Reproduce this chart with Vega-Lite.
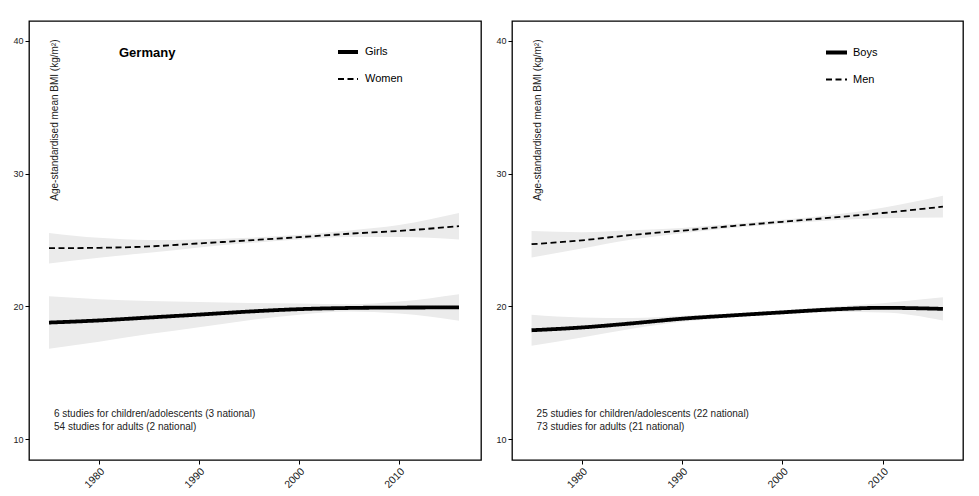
{
  "$schema": "https://vega.github.io/schema/vega-lite/v6.json",
  "background": "white",
  "padding": {"left": 12, "top": 20, "right": 5, "bottom": 5},
  "bounds": "flush",
  "spacing": 31,
  "config": {
    "font": "Liberation Sans",
    "view": {"stroke": "black", "strokeWidth": 1.3},
    "axis": {"grid": false, "domain": false, "tickColor": "black", "tickSize": 4, "labelColor": "#222", "labelPadding": 2}
  },
  "datasets": {
    "curves": [
      {"panel": "L", "series": "Girls", "year": 1975, "bmi": 18.79, "lo": 16.81, "hi": 20.77},
      {"panel": "L", "series": "Girls", "year": 1980, "bmi": 18.95, "lo": 17.35, "hi": 20.55},
      {"panel": "L", "series": "Girls", "year": 1985, "bmi": 19.17, "lo": 17.92, "hi": 20.42},
      {"panel": "L", "series": "Girls", "year": 1990, "bmi": 19.39, "lo": 18.44, "hi": 20.34},
      {"panel": "L", "series": "Girls", "year": 1995, "bmi": 19.62, "lo": 18.97, "hi": 20.27},
      {"panel": "L", "series": "Girls", "year": 2000, "bmi": 19.8, "lo": 19.38, "hi": 20.22},
      {"panel": "L", "series": "Girls", "year": 2005, "bmi": 19.89, "lo": 19.62, "hi": 20.16},
      {"panel": "L", "series": "Girls", "year": 2010, "bmi": 19.92, "lo": 19.47, "hi": 20.37},
      {"panel": "L", "series": "Girls", "year": 2016, "bmi": 19.93, "lo": 18.93, "hi": 20.93},
      {"panel": "L", "series": "Women", "year": 1975, "bmi": 24.39, "lo": 23.24, "hi": 25.54},
      {"panel": "L", "series": "Women", "year": 1980, "bmi": 24.42, "lo": 23.67, "hi": 25.17},
      {"panel": "L", "series": "Women", "year": 1985, "bmi": 24.52, "lo": 24.04, "hi": 25.0},
      {"panel": "L", "series": "Women", "year": 1990, "bmi": 24.75, "lo": 24.45, "hi": 25.05},
      {"panel": "L", "series": "Women", "year": 1995, "bmi": 24.98, "lo": 24.78, "hi": 25.18},
      {"panel": "L", "series": "Women", "year": 2000, "bmi": 25.22, "lo": 25.04, "hi": 25.4},
      {"panel": "L", "series": "Women", "year": 2005, "bmi": 25.48, "lo": 25.23, "hi": 25.73},
      {"panel": "L", "series": "Women", "year": 2010, "bmi": 25.69, "lo": 25.24, "hi": 26.14},
      {"panel": "L", "series": "Women", "year": 2016, "bmi": 26.05, "lo": 25.05, "hi": 27.05},
      {"panel": "R", "series": "Boys", "year": 1975, "bmi": 18.21, "lo": 17.04, "hi": 19.38},
      {"panel": "R", "series": "Boys", "year": 1980, "bmi": 18.42, "lo": 17.67, "hi": 19.17},
      {"panel": "R", "series": "Boys", "year": 1985, "bmi": 18.73, "lo": 18.33, "hi": 19.13},
      {"panel": "R", "series": "Boys", "year": 1990, "bmi": 19.08, "lo": 18.86, "hi": 19.3},
      {"panel": "R", "series": "Boys", "year": 1995, "bmi": 19.33, "lo": 19.18, "hi": 19.48},
      {"panel": "R", "series": "Boys", "year": 2000, "bmi": 19.56, "lo": 19.41, "hi": 19.71},
      {"panel": "R", "series": "Boys", "year": 2005, "bmi": 19.78, "lo": 19.58, "hi": 19.98},
      {"panel": "R", "series": "Boys", "year": 2010, "bmi": 19.9, "lo": 19.55, "hi": 20.25},
      {"panel": "R", "series": "Boys", "year": 2016, "bmi": 19.82, "lo": 18.95, "hi": 20.69},
      {"panel": "R", "series": "Men", "year": 1975, "bmi": 24.69, "lo": 23.69, "hi": 25.69},
      {"panel": "R", "series": "Men", "year": 1980, "bmi": 24.98, "lo": 24.36, "hi": 25.6},
      {"panel": "R", "series": "Men", "year": 1985, "bmi": 25.39, "lo": 25.04, "hi": 25.74},
      {"panel": "R", "series": "Men", "year": 1990, "bmi": 25.71, "lo": 25.51, "hi": 25.91},
      {"panel": "R", "series": "Men", "year": 1995, "bmi": 26.06, "lo": 25.91, "hi": 26.21},
      {"panel": "R", "series": "Men", "year": 2000, "bmi": 26.38, "lo": 26.23, "hi": 26.53},
      {"panel": "R", "series": "Men", "year": 2005, "bmi": 26.7, "lo": 26.5, "hi": 26.9},
      {"panel": "R", "series": "Men", "year": 2010, "bmi": 27.04, "lo": 26.64, "hi": 27.44},
      {"panel": "R", "series": "Men", "year": 2016, "bmi": 27.52, "lo": 26.7, "hi": 28.34}
    ],
    "notes": [
      {"panel": "L", "kind": "title", "year": 1982.0, "bmi": 39.12, "label": "Germany"},
      {"panel": "L", "kind": "note", "year": 1975.5, "bmi": 11.91, "label": "6 studies for children/adolescents (3 national)"},
      {"panel": "L", "kind": "note", "year": 1975.5, "bmi": 10.96, "label": "54 studies for adults (2 national)"},
      {"panel": "R", "kind": "note", "year": 1975.5, "bmi": 11.91, "label": "25 studies for children/adolescents (22 national)"},
      {"panel": "R", "kind": "note", "year": 1975.5, "bmi": 10.96, "label": "73 studies for adults (21 national)"}
    ]
  },
  "resolve": {
    "scale": {"strokeDash": "independent", "strokeWidth": "independent"},
    "legend": {"strokeDash": "independent", "strokeWidth": "independent"}
  },
  "hconcat": [
    {
      "width": 452,
      "height": 439,
      "encoding": {
        "x": {"field": "year", "type": "quantitative", "scale": {"domain": [1973.0, 2018.2], "nice": false, "zero": false},
              "axis": {"title": null, "values": [1980, 1990, 2000, 2010], "format": "d", "labelAngle": -45, "labelAlign": "right", "labelBaseline": "top", "labelFontSize": 10.5}},
        "y": {"field": "bmi", "type": "quantitative", "scale": {"domain": [8.44, 41.5], "nice": false, "zero": false},
              "axis": {"title": "Age-standardised mean BMI (kg/m²)", "titleX": 25, "titleY": 18, "titleAngle": 270, "titleAlign": "right", "titleBaseline": "middle", "titleFontSize": 10, "titleFontWeight": "normal", "titleColor": "#222", "values": [10, 20, 30, 40], "labelFontSize": 9}}
      },
      "layer": [
        {
          "data": {"name": "curves"},
          "transform": [{"filter": "datum.panel == 'L'"}],
          "mark": {"type": "area", "color": "#ebebeb", "opacity": 1, "interpolate": "monotone"},
          "encoding": {"y": {"field": "lo", "type": "quantitative"}, "y2": {"field": "hi"}, "detail": {"field": "series"}}
        },
        {
          "data": {"name": "curves"},
          "transform": [{"filter": "datum.panel == 'L'"}],
          "mark": {"type": "line", "color": "black", "interpolate": "monotone"},
          "encoding": {
            "strokeDash": {"field": "series", "type": "nominal", "scale": {"domain": ["Girls", "Women"], "range": [[1, 0], [6, 3.5]]},
              "legend": {"title": null, "orient": "none", "legendX": 307, "legendY": 19, "symbolType": "stroke", "symbolSize": 400, "symbolStrokeColor": "black", "labelFontSize": 11, "labelColor": "black", "labelOffset": 5, "rowPadding": 8, "padding": 0}},
            "strokeWidth": {"field": "series", "type": "nominal", "scale": {"domain": ["Girls", "Women"], "range": [3.8, 1.8]},
              "legend": {"title": null, "orient": "none", "legendX": 307, "legendY": 19, "symbolType": "stroke", "symbolSize": 400, "symbolStrokeColor": "black", "labelFontSize": 11, "labelColor": "black", "labelOffset": 5, "rowPadding": 8, "padding": 0}}
          }
        },
        {
          "data": {"name": "notes"},
          "transform": [{"filter": "datum.panel == 'L' && datum.kind == 'title'"}],
          "mark": {"type": "text", "align": "left", "baseline": "middle", "fontSize": 13, "fontWeight": "bold", "color": "black"},
          "encoding": {"text": {"field": "label"}}
        },
        {
          "data": {"name": "notes"},
          "transform": [{"filter": "datum.panel == 'L' && datum.kind == 'note'"}],
          "mark": {"type": "text", "align": "left", "baseline": "middle", "fontSize": 10, "color": "#222"},
          "encoding": {"text": {"field": "label"}}
        }
      ]
    },
    {
      "width": 451,
      "height": 439,
      "encoding": {
        "x": {"field": "year", "type": "quantitative", "scale": {"domain": [1973.05, 2018.0], "nice": false, "zero": false},
              "axis": {"title": null, "values": [1980, 1990, 2000, 2010], "format": "d", "labelAngle": -45, "labelAlign": "right", "labelBaseline": "top", "labelFontSize": 10.5}},
        "y": {"field": "bmi", "type": "quantitative", "scale": {"domain": [8.44, 41.5], "nice": false, "zero": false},
              "axis": {"title": "Age-standardised mean BMI (kg/m²)", "titleX": 25, "titleY": 18, "titleAngle": 270, "titleAlign": "right", "titleBaseline": "middle", "titleFontSize": 10, "titleFontWeight": "normal", "titleColor": "#222", "values": [10, 20, 30, 40], "labelFontSize": 9}}
      },
      "layer": [
        {
          "data": {"name": "curves"},
          "transform": [{"filter": "datum.panel == 'R'"}],
          "mark": {"type": "area", "color": "#ebebeb", "opacity": 1, "interpolate": "monotone"},
          "encoding": {"y": {"field": "lo", "type": "quantitative"}, "y2": {"field": "hi"}, "detail": {"field": "series"}}
        },
        {
          "data": {"name": "curves"},
          "transform": [{"filter": "datum.panel == 'R'"}],
          "mark": {"type": "line", "color": "black", "interpolate": "monotone"},
          "encoding": {
            "strokeDash": {"field": "series", "type": "nominal", "scale": {"domain": ["Boys", "Men"], "range": [[1, 0], [6, 3.5]]},
              "legend": {"title": null, "orient": "none", "legendX": 312, "legendY": 19, "symbolType": "stroke", "symbolSize": 441, "symbolStrokeColor": "black", "labelFontSize": 11, "labelColor": "black", "labelOffset": 4, "rowPadding": 7, "padding": 0}},
            "strokeWidth": {"field": "series", "type": "nominal", "scale": {"domain": ["Boys", "Men"], "range": [3.8, 1.8]},
              "legend": {"title": null, "orient": "none", "legendX": 312, "legendY": 19, "symbolType": "stroke", "symbolSize": 441, "symbolStrokeColor": "black", "labelFontSize": 11, "labelColor": "black", "labelOffset": 4, "rowPadding": 7, "padding": 0}}
          }
        },
        {
          "data": {"name": "notes"},
          "transform": [{"filter": "datum.panel == 'R' && datum.kind == 'note'"}],
          "mark": {"type": "text", "align": "left", "baseline": "middle", "fontSize": 10, "color": "#222"},
          "encoding": {"text": {"field": "label"}}
        }
      ]
    }
  ]
}
